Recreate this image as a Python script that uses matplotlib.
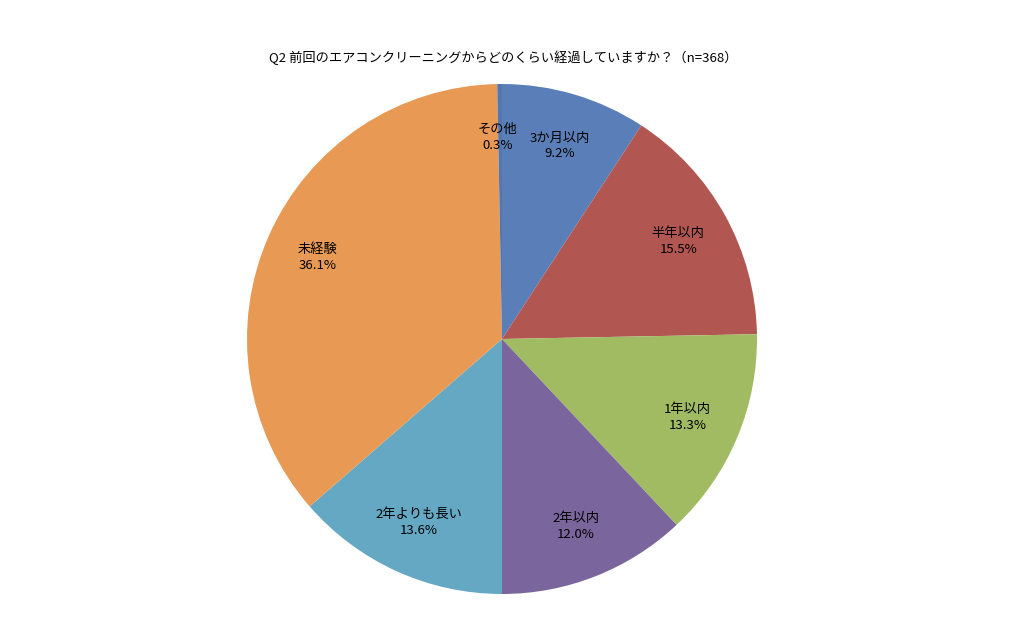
import numpy as np
import matplotlib
matplotlib.use("Agg")
import matplotlib.pyplot as plt

plt.rcParams['font.family'] = ['Noto Sans CJK JP', 'DejaVu Sans']

title = "Q2 前回のエアコンクリーニングからどのくらい経過していますか？（n=368）"
labels = ["3か月以内", "半年以内", "1年以内", "2年以内", "2年よりも長い", "未経験", "その他"]
shares = [9.2, 15.5, 13.3, 12.0, 13.6, 36.1, 0.3]
colors = ["#5A7FB8", "#B15651", "#A1BB63", "#7B659D", "#64A8C3", "#E89A55", "#5577B0"]

fig = plt.figure(figsize=(10.24, 6.36), dpi=100)
W, H = 1024, 636
cx, cy, r = 502, 339, 255
ax = fig.add_axes([(cx - r) / W, (H - cy - r) / H, 2 * r / W, 2 * r / H])

wedges, _ = ax.pie(shares, colors=colors, startangle=90, counterclock=False,
                   radius=1.0, wedgeprops=dict(linewidth=0))
ax.set_xlim(-1, 1)
ax.set_ylim(-1, 1)
ax.set_aspect('equal')
ax.axis('off')

for w, lab, val in zip(wedges, labels, shares):
    ang = np.deg2rad((w.theta1 + w.theta2) / 2)
    x, y = 0.79 * np.cos(ang), 0.79 * np.sin(ang)
    if lab == "その他":
        x -= 0.01
    ax.text(x, y, f"{lab}\n{val:.1f}%", ha='center', va='center',
            fontsize=9.5, linespacing=1.25, color='black')

fig.text(503 / W, 1 - 58 / H, title, ha='center', va='center', fontsize=9.5)

fig.savefig("out.png", dpi=100, facecolor='white')
